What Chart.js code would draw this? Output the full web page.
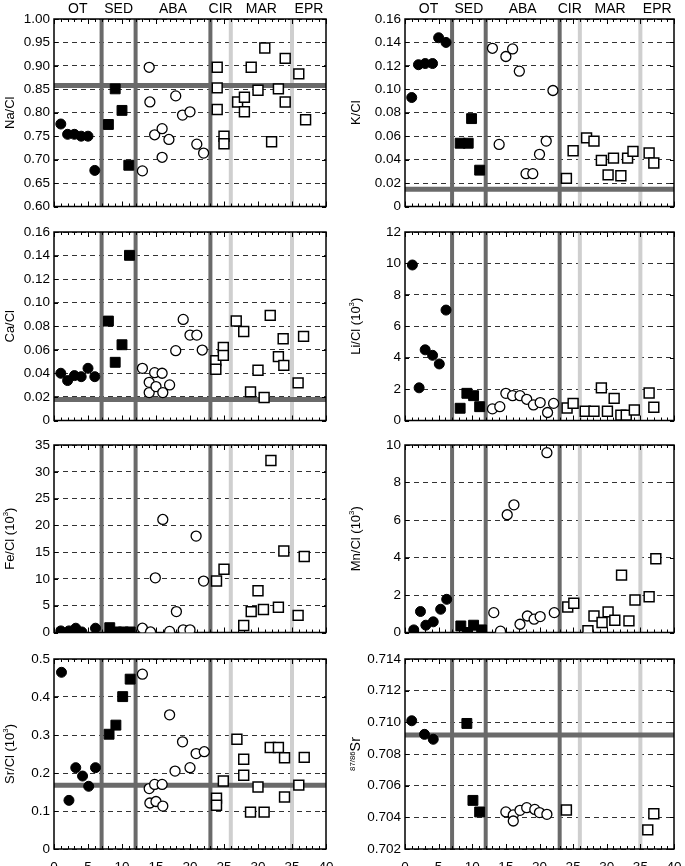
<!DOCTYPE html>
<html>
<head>
<meta charset="utf-8">
<script src="https://cdn.jsdelivr.net/npm/chart.js@4.4.1/dist/chart.umd.min.js"></script>
<style>
  body { margin: 0; background: #fff; width: 685px; height: 866px; position: relative; overflow: hidden; }
  canvas { position: absolute; }
</style>
</head>
<body>
<script>
// site groups along the x axis (sample number)
const groupNames = ["OT", "SED", "ABA", "CIR", "MAR", "EPR"];
const groupCenters = [3.5, 9.5, 17.5, 24.5, 30.5, 37.5];
const darkDividers = [7, 12, 23];
const lightDividers = [26, 35];

// [sample, value]
const naCl = [
  [1, 0.776], [2, 0.754], [3, 0.754], [4, 0.750], [5, 0.750], [6, 0.677],
  [8, 0.775], [9, 0.851], [10, 0.805], [11, 0.688],
  [13, 0.676], [14, 0.897], [14.1, 0.823], [14.8, 0.753], [15.9, 0.766], [15.9, 0.705], [16.9, 0.743],
  [17.9, 0.836], [18.9, 0.795], [20, 0.802], [21, 0.733], [22, 0.714],
  [24, 0.897], [24, 0.853], [24, 0.807], [25, 0.750], [25, 0.734],
  [27, 0.823], [28, 0.833], [28, 0.802], [29, 0.897], [30, 0.848], [31, 0.938], [32, 0.738], [33, 0.851],
  [34, 0.823], [34, 0.916],
  [36, 0.883], [37, 0.785],
];
const kCl = [
  [1, 0.093], [2, 0.121], [3, 0.122], [4.1, 0.122], [5, 0.144], [6.1, 0.140],
  [8.2, 0.054], [9.4, 0.054], [9.9, 0.075], [11.1, 0.031],
  [13, 0.135], [14, 0.053], [15, 0.128], [16, 0.1345], [17, 0.1155], [18, 0.028], [19, 0.028],
  [20, 0.0445], [21, 0.0558], [22, 0.099],
  [24, 0.024], [25, 0.0476],
  [27, 0.0586], [28.1, 0.0558], [29.2, 0.0394], [30.2, 0.027], [31, 0.0413], [32.1, 0.0263],
  [33.1, 0.0413], [33.9, 0.047],
  [36.3, 0.0456], [37, 0.0371],
];
const caCl = [
  [1, 0.0401], [2, 0.0339], [3, 0.0381], [4, 0.0372], [5, 0.0443], [6, 0.0372],
  [8, 0.0844], [9, 0.0494], [10, 0.0643], [11.1, 0.1402],
  [13, 0.0443], [14, 0.0324], [14, 0.0237], [14.8, 0.0406], [15, 0.0288], [15.9, 0.0401], [16, 0.0237],
  [17, 0.0302], [17.9, 0.0593], [19, 0.0858], [20, 0.0725], [21, 0.0725], [21.8, 0.0598],
  [23.8, 0.0508], [23.8, 0.0435], [24.9, 0.0621], [24.9, 0.0553],
  [26.8, 0.0844], [27.9, 0.0756], [28.9, 0.0243], [30, 0.0426], [30.9, 0.0195], [31.8, 0.0892],
  [33, 0.0542], [33.7, 0.0694], [33.8, 0.0468],
  [35.9, 0.0319], [36.7, 0.0714],
];
const liCl = [
  [1.1, 9.9], [2.1, 2.08], [3, 4.5], [4.1, 4.15], [5.1, 3.6], [6.1, 7.03],
  [8.2, 0.78], [9.2, 1.73], [10.2, 1.58], [11.1, 0.88],
  [13, 0.74], [14.1, 0.88], [15, 1.73], [16, 1.58], [17.1, 1.58], [18.1, 1.35], [19.1, 0.99],
  [20.1, 1.14], [21.2, 0.51], [22.1, 1.09],
  [24.1, 0.8], [25, 1.09],
  [26.8, 0.59], [28.1, 0.59], [29.2, 2.08], [30.1, 0.59], [31.1, 1.41], [32.1, 0.34], [32.9, 0.34], [34.1, 0.67],
  [36.3, 1.75], [37, 0.84],
];
const feCl = [
  [1, 0.3], [2.2, 0.3], [3.2, 0.8], [4.1, 0.1], [6.1, 0.8],
  [8.2, 0.9], [9.2, 0.1], [10.2, 0.1], [11.2, 0.1],
  [13, 0.8], [14.2, 0.1], [14.9, 10.2], [16, 21.1], [17, 0.2], [18, 3.9], [19, 0.5], [20, 0.5],
  [20.9, 18], [22, 9.6],
  [23.9, 9.6], [25, 11.8],
  [27.9, 1.3], [29, 3.9], [30, 7.8], [30.8, 4.3], [31.9, 32.1], [33, 4.7], [33.8, 15.2],
  [35.9, 3.2], [36.8, 14.2],
];
const mnCl = [
  [1.3, 0.14], [2.3, 1.12], [3.1, 0.39], [4.2, 0.57], [5.3, 1.24], [6.2, 1.77],
  [8.3, 0.35], [9.3, 0], [10.2, 0.39], [11.4, 0.14],
  [13.2, 1.06], [14.2, 0.07], [15.2, 6.28], [16.2, 6.81], [17.1, 0.44], [18.2, 0.88], [19.2, 0.71],
  [20.1, 0.85], [21.1, 9.59], [22.2, 1.06],
  [24.2, 1.36], [25.1, 1.56],
  [27.2, 0.1], [28.1, 0.88], [29.3, 0.53], [30.2, 1.1], [31.2, 0.65], [32.2, 3.06], [33.3, 0.62], [34.2, 1.73],
  [36.3, 1.91], [37.3, 3.93],
];
const srCl = [
  [1.1, 0.465], [2.2, 0.128], [3.2, 0.214], [4.2, 0.192], [5.1, 0.165], [6.1, 0.214],
  [8.1, 0.302], [9.1, 0.326], [10.1, 0.401], [11.2, 0.447],
  [13, 0.46], [14, 0.159], [14.1, 0.121], [14.8, 0.17], [15, 0.125], [15.9, 0.17], [16, 0.113],
  [17, 0.353], [17.8, 0.205], [18.9, 0.282], [20, 0.214], [20.9, 0.251], [22.1, 0.256],
  [23.9, 0.134], [23.9, 0.115], [24.9, 0.179],
  [26.9, 0.289], [27.9, 0.236], [27.9, 0.194], [28.9, 0.097], [30, 0.163], [30.9, 0.097], [31.8, 0.267],
  [33, 0.267], [33.9, 0.24], [33.9, 0.137],
  [36, 0.168], [36.8, 0.241],
];
const sr8786 = [
  [1, 0.7101], [2.9, 0.70924], [4.2, 0.70893],
  [9.2, 0.70993], [10.1, 0.70507], [11.1, 0.70434],
  [15, 0.70434], [16.1, 0.70415], [16.1, 0.70377], [17.1, 0.70444], [18.1, 0.70461], [19.3, 0.7045],
  [20, 0.7043], [21.1, 0.70419],
  [24, 0.70446],
  [36.1, 0.70321], [37, 0.70423],
];

// seawater reference values (thick horizontal lines)
const seawater = { na: 0.858, k: 0.0148, ca: 0.0178, sr: 0.1675, sr87: 0.7092 };

const FONT = '"Liberation Sans", Arial, Helvetica, sans-serif';
const DARK = "#6a6a6a";
const LIGHT = "#cfcfcf";

const panels = [
  { data: naCl, min: 0.6, max: 1.0, step: 0.05, dec: 2, ref: seawater.na, title: [["Na/Cl", 1, 0]] },
  { data: kCl, min: 0, max: 0.16, step: 0.02, dec: 2, ref: seawater.k, title: [["K/Cl", 1, 0]] },
  { data: caCl, min: 0, max: 0.16, step: 0.02, dec: 2, ref: seawater.ca, title: [["Ca/Cl", 1, 0]] },
  { data: liCl, min: 0, max: 12, step: 2, dec: 0, ref: null, title: [["Li/Cl (10", 1, 0], ["3", 0.6, 0.4], [")", 1, 0]] },
  { data: feCl, min: 0, max: 35, step: 5, dec: 0, ref: null, title: [["Fe/Cl (10", 1, 0], ["3", 0.6, 0.4], [")", 1, 0]] },
  { data: mnCl, min: 0, max: 10, step: 2, dec: 0, ref: null, title: [["Mn/Cl (10", 1, 0], ["3", 0.6, 0.4], [")", 1, 0]] },
  { data: srCl, min: 0, max: 0.5, step: 0.1, dec: 1, ref: seawater.sr, title: [["Sr/Cl (10", 1, 0], ["3", 0.6, 0.4], [")", 1, 0]] },
  { data: sr8786, min: 0.702, max: 0.714, step: 0.002, dec: 3, ref: seawater.sr87, title: [["87/86", 0.6, 0.35], ["Sr", 1.1, 0]] },
];

// page layout
const cols = [
  { left: 0, yW: 54, padR: 14, titleX: 10 },
  { left: 345, yW: 60, padR: 11, titleX: 11 },
];
const rowTop = [19, 232, 445, 659];
const rowBottom = [207, 421, 633, 849];

const symbolStyles = [
  { pointStyle: "circle", pointRadius: 5, backgroundColor: "#000", borderColor: "#000", borderWidth: 1 },
  { pointStyle: "rect", pointRadius: 7, backgroundColor: "#000", borderColor: "#000", borderWidth: 1 },
  { pointStyle: "circle", pointRadius: 5, backgroundColor: "#fff", borderColor: "#000", borderWidth: 1.3 },
  { pointStyle: "rect", pointRadius: 7, backgroundColor: "#fff", borderColor: "#000", borderWidth: 1.5 },
];

function splitGroups(points) {
  const groups = [[], [], [], []];
  points.forEach(([x, y]) => {
    let g = 3;
    if (x < darkDividers[0]) g = 0;
    else if (x < darkDividers[1]) g = 1;
    else if (x < darkDividers[2]) g = 2;
    groups[g].push({ x, y });
  });
  return groups;
}

const guidesPlugin = {
  id: "guides",
  beforeDatasetsDraw(chart, args, opts) {
    const { ctx, chartArea: a, scales: { x, y } } = chart;
    ctx.save();
    ctx.beginPath();
    ctx.rect(a.left, a.top, a.width, a.height);
    ctx.clip();
    const vline = (v, color) => {
      const px = x.getPixelForValue(v);
      ctx.strokeStyle = color;
      ctx.lineWidth = 4;
      ctx.beginPath();
      ctx.moveTo(px, a.top);
      ctx.lineTo(px, a.bottom);
      ctx.stroke();
    };
    lightDividers.forEach((v) => vline(v, LIGHT));
    if (opts.ref != null) {
      const py = y.getPixelForValue(opts.ref);
      ctx.strokeStyle = DARK;
      ctx.lineWidth = 5;
      ctx.beginPath();
      ctx.moveTo(a.left, py);
      ctx.lineTo(a.right, py);
      ctx.stroke();
    }
    darkDividers.forEach((v) => vline(v, DARK));
    ctx.restore();

    // frame with inward ticks
    ctx.save();
    ctx.strokeStyle = "#000";
    ctx.lineWidth = 1;
    ctx.beginPath();
    for (let v = 0; v <= 40; v++) {
      const px = Math.round(x.getPixelForValue(v)) + 0.5;
      const len = v % 5 === 0 ? 5 : 3;
      ctx.moveTo(px, a.bottom);
      ctx.lineTo(px, a.bottom - len);
      ctx.moveTo(px, a.top);
      ctx.lineTo(px, a.top + len);
    }
    y.ticks.forEach((t) => {
      const py = Math.round(y.getPixelForValue(t.value)) + 0.5;
      ctx.moveTo(a.left, py);
      ctx.lineTo(a.left + 4, py);
      ctx.moveTo(a.right, py);
      ctx.lineTo(a.right - 4, py);
    });
    ctx.stroke();
    ctx.lineWidth = 1.5;
    ctx.strokeRect(a.left, a.top, a.width, a.height);
    ctx.restore();
  },
  afterDraw(chart, args, opts) {
    const { ctx, chartArea: a, scales: { x } } = chart;
    ctx.save();
    ctx.fillStyle = "#000";
    // y title with superscripts
    const base = 13;
    let total = 0;
    opts.title.forEach(([txt, scale]) => {
      ctx.font = `${base * scale}px ${FONT}`;
      total += ctx.measureText(txt).width;
    });
    ctx.translate(opts.titleX, (a.top + a.bottom) / 2);
    ctx.rotate(-Math.PI / 2);
    ctx.textBaseline = "middle";
    ctx.textAlign = "left";
    let cx = -total / 2;
    opts.title.forEach(([txt, scale, raise]) => {
      ctx.font = `${base * scale}px ${FONT}`;
      ctx.fillText(txt, cx, -raise * base + (scale < 1 ? 1 : 0));
      cx += ctx.measureText(txt).width;
    });
    ctx.restore();

    if (opts.groups) {
      ctx.save();
      ctx.fillStyle = "#000";
      ctx.font = `14px ${FONT}`;
      ctx.textAlign = "center";
      ctx.textBaseline = "middle";
      groupNames.forEach((name, i) => {
        ctx.fillText(name, x.getPixelForValue(groupCenters[i]), a.top - 10);
      });
      ctx.restore();
    }
  },
};

panels.forEach((p, i) => {
  const r = Math.floor(i / 2);
  const col = cols[i % 2];
  const canvasTop = r === 0 ? 0 : rowTop[r] - 12;
  const padTop = rowTop[r] - canvasTop;
  const xH = r === 3 ? 17 : 0;
  const padB = r === 3 ? 0 : 8;
  const width = 340;
  const height = rowBottom[r] - canvasTop + xH + padB;

  const canvas = document.createElement("canvas");
  canvas.width = width;
  canvas.height = height;
  canvas.style.left = col.left + "px";
  canvas.style.top = canvasTop + "px";
  canvas.style.width = width + "px";
  canvas.style.height = height + "px";
  document.body.appendChild(canvas);

  const groups = splitGroups(p.data);

  new Chart(canvas.getContext("2d"), {
    type: "scatter",
    data: {
      datasets: groups.map((pts, g) => ({ data: pts, ...symbolStyles[g] })),
    },
    options: {
      responsive: false,
      animation: false,
      events: [],
      layout: { padding: { top: padTop, right: col.padR, bottom: padB, left: 0 } },
      plugins: {
        legend: { display: false },
        tooltip: { enabled: false },
        guides: { ref: p.ref, title: p.title, titleX: col.titleX, groups: r === 0 },
      },
      scales: {
        x: {
          type: "linear",
          min: 0,
          max: 40,
          grid: { display: false },
          border: { display: false },
          ticks: {
            display: r === 3,
            stepSize: 5,
            autoSkip: false,
            maxRotation: 0,
            padding: 2,
            color: "#000",
            font: { family: FONT, size: 13.5 },
          },
          afterFit: (s) => {
            s.height = xH;
            s.paddingLeft = 0;
            s.paddingRight = 0;
          },
        },
        y: {
          type: "linear",
          min: p.min,
          max: p.max,
          grid: { color: "#333", lineWidth: 1, drawTicks: false },
          border: { display: false, dash: [5, 4] },
          ticks: {
            stepSize: p.step,
            autoSkip: false,
            padding: 4,
            color: "#000",
            font: { family: FONT, size: 13.5 },
            callback: (v) => (Math.abs(v) < 1e-9 ? "0" : Number(v).toFixed(p.dec)),
          },
          afterFit: (s) => {
            s.width = col.yW;
            s.paddingTop = 0;
            s.paddingBottom = 0;
          },
        },
      },
    },
    plugins: [guidesPlugin],
  });
});
</script>
</body>
</html>
